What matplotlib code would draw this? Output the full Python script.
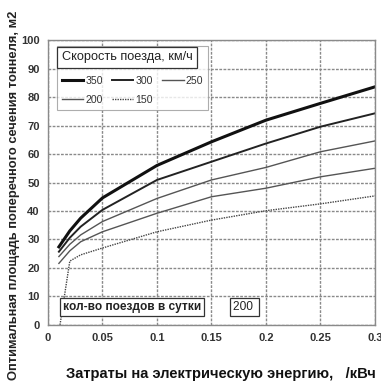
import matplotlib
matplotlib.use("Agg")
import matplotlib.pyplot as plt

plt.rcParams['font.family'] = ['Liberation Sans', 'DejaVu Sans']

x_main = [0.01, 0.02, 0.03, 0.05, 0.1, 0.15, 0.2, 0.25, 0.3]
y_350 = [27.4, 33.0, 37.5, 44.6, 56.0, 64.3, 71.9, 77.8, 83.6]
y_300 = [25.7, 30.6, 34.5, 40.4, 50.9, 57.3, 63.7, 69.6, 74.3]
y_250 = [24.0, 28.3, 31.6, 36.3, 44.4, 50.9, 55.3, 60.8, 64.6]
y_200 = [21.6, 26.0, 29.2, 32.7, 39.2, 45.0, 48.0, 52.0, 55.0]
x_150 = [0.011, 0.02, 0.03, 0.05, 0.1, 0.15, 0.2, 0.25, 0.3]
y_150 = [0.0, 22.4, 24.6, 27.0, 32.7, 36.8, 40.1, 42.5, 45.3]

speed_labels = ['350', '300', '250', '200', '150']
x_ticks = [0, 0.05, 0.1, 0.15, 0.2, 0.25, 0.3]
x_tick_labels = ['0', '0.05', '0.1', '0.15', '0.2', '0.25', '0.3']
y_ticks = [0, 10, 20, 30, 40, 50, 60, 70, 80, 90, 100]

fig = plt.figure(figsize=(3.81, 3.90), dpi=100)
ax = fig.add_axes([0.126, 0.167, 0.858, 0.730])

grid_kw = dict(color='#8a8a8a', linewidth=1.0, linestyle=(0, (2, 1)))
ax.grid(True, **grid_kw)
ax.set_axisbelow(True)
for s in ax.spines.values():
    s.set_color('#8a8a8a')
    s.set_linestyle((0, (2, 1)))
    s.set_linewidth(1.0)

l1, = ax.plot(x_main, y_350, color='#111111', lw=2.2, label=speed_labels[0])
l2, = ax.plot(x_main, y_300, color='#222222', lw=1.4, label=speed_labels[1])
l3, = ax.plot(x_main, y_250, color='#555555', lw=1.0, label=speed_labels[2])
l4, = ax.plot(x_main, y_200, color='#555555', lw=1.0, label=speed_labels[3])
l5, = ax.plot(x_150, y_150, color='#444444', lw=1.0, linestyle=(0, (1, 0.8)), label=speed_labels[4])

ax.set_xlim(0, 0.3)
ax.set_ylim(0, 100)
ax.set_xticks(x_ticks)
ax.set_xticklabels(x_tick_labels)
ax.set_yticks(y_ticks)
ax.tick_params(axis='both', length=0, pad=6, labelsize=8, labelcolor='#333333')
for lab in ax.get_xticklabels() + ax.get_yticklabels():
    lab.set_fontweight('bold')

# column-major fill -> rows read 350 300 250 / 200 150
leg = ax.legend(handles=[l1, l4, l2, l5, l3], ncol=3, loc='upper left',
                bbox_to_anchor=(0.012, 0.997), fontsize=7.6, frameon=True,
                fancybox=False, handlelength=2.0, handletextpad=0.2,
                columnspacing=0.9, borderpad=0.45, labelspacing=0.9,
                labelcolor='#333333', title='Скорость поезда, км/ч',
                title_fontsize=9.2, alignment='left')
leg.get_frame().set_edgecolor('#999999')
leg.get_frame().set_linewidth(0.8)
leg._legend_box.sep = 9
t = leg.get_title()
t.set_color('#222222')
t.set_bbox(dict(boxstyle='square,pad=0.35', fc='white', ec='#333333', lw=0.9))

ax.text(0.045, 0.062, 'кол-во поездов в сутки', transform=ax.transAxes,
        fontsize=8.6, fontweight='bold', color='#222222', va='center', ha='left',
        bbox=dict(boxstyle='square,pad=0.25', fc='white', ec='#333333', lw=0.9))
ax.text(0.565, 0.062, '200 ', transform=ax.transAxes,
        fontsize=8.6, color='#222222', va='center', ha='left',
        bbox=dict(boxstyle='square,pad=0.25', fc='white', ec='#333333', lw=0.9))

fig.text(0.037, 0.50, 'Оптимальная площадь поперечного сечения тоннеля, м2',
         rotation=90, fontsize=9.3, fontweight='bold', color='#222222',
         va='center', ha='center')
fig.text(0.58, 0.040, 'Затраты на электрическую энергию,   /кВч',
         fontsize=10.6, fontweight='bold', color='#111111', va='center', ha='center')

fig.savefig('out.png', dpi=100)
